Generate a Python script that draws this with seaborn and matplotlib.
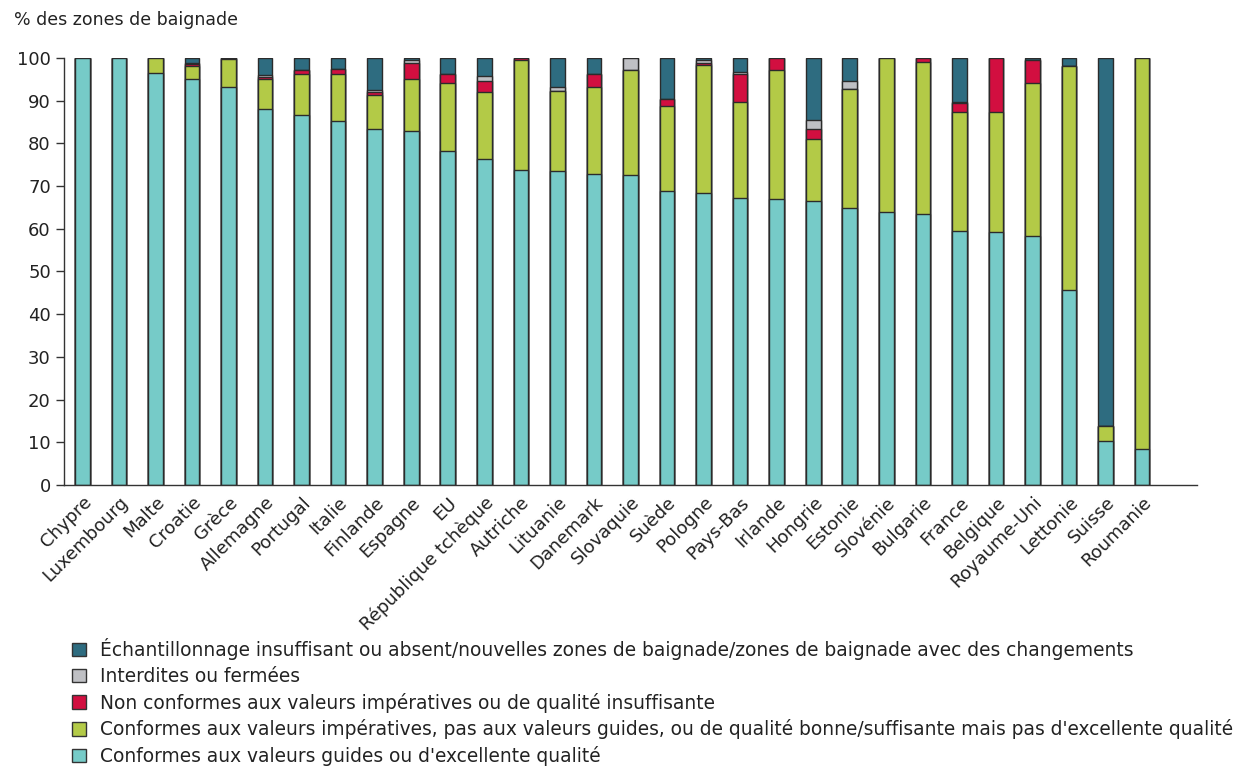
import pandas as pd
import seaborn as sns
import matplotlib.pyplot as plt
from matplotlib.patches import Patch

pays = ['Chypre', 'Luxembourg', 'Malte', 'Croatie', 'Grèce', 'Allemagne', 'Portugal',
        'Italie', 'Finlande', 'Espagne', 'EU', 'République tchèque', 'Autriche',
        'Lituanie', 'Danemark', 'Slovaquie', 'Suède', 'Pologne', 'Pays-Bas', 'Irlande',
        'Hongrie', 'Estonie', 'Slovénie', 'Bulgarie', 'France', 'Belgique',
        'Royaume-Uni', 'Lettonie', 'Suisse', 'Roumanie']

# % des zones de baignade par classe
excellente = [100, 100, 96.5, 95.1, 93.2, 88.0, 86.7, 85.1, 83.4, 82.8, 78.3, 76.3, 73.7,
              73.6, 72.8, 72.6, 68.9, 68.3, 67.2, 66.9, 66.4, 64.8, 63.8, 63.4, 59.5,
              59.2, 58.2, 45.7, 10.2, 8.4]
suffisante = [0, 0, 3.5, 3.1, 6.5, 7.1, 9.6, 11.0, 7.9, 12.3, 15.8, 15.7, 25.9,
              18.6, 20.4, 24.5, 19.8, 30.0, 22.5, 30.2, 14.7, 27.8, 36.2, 35.7, 27.8,
              28.1, 35.8, 52.3, 3.6, 91.6]
non_conformes = [0, 0, 0, 0.4, 0.2, 0.4, 0.8, 1.2, 0.8, 3.8, 2.0, 2.5, 0.4,
                 0.1, 3.0, 0, 1.6, 0.4, 6.5, 2.9, 2.2, 0, 0, 0.9, 2.1,
                 12.7, 5.6, 0, 0, 0]
fermees = [0, 0, 0, 0.1, 0, 0.4, 0.1, 0.1, 0.3, 0.5, 0.2, 1.2, 0,
           0.8, 0, 2.9, 0.1, 0.8, 0.4, 0, 2.1, 1.9, 0, 0, 0.3,
           0, 0, 0, 0, 0]
insuffisant = [0, 0, 0, 1.3, 0.1, 4.1, 2.8, 2.6, 7.6, 0.6, 3.7, 4.3, 0,
               6.9, 3.8, 0, 9.6, 0.5, 3.4, 0, 14.6, 5.5, 0, 0, 10.3,
               0, 0.4, 2.0, 86.2, 0]

libelles = [
    "Échantillonnage insuffisant ou absent/nouvelles zones de baignade/zones de baignade avec des changements",
    "Interdites ou fermées",
    "Non conformes aux valeurs impératives ou de qualité insuffisante",
    "Conformes aux valeurs impératives, pas aux valeurs guides, ou de qualité bonne/suffisante mais pas d'excellente qualité",
    "Conformes aux valeurs guides ou d'excellente qualité",
]
couleurs = ['#2e6c80', '#bfc0c4', '#d20f40', '#b3ca47', '#76cbc8']

df = pd.DataFrame({'pays': pays, 'exc': excellente, 'suf': suffisante,
                   'non': non_conformes, 'fer': fermees, 'ins': insuffisant})
# cumuls pour empiler
df['c1'] = df['exc']
df['c2'] = df['c1'] + df['suf']
df['c3'] = df['c2'] + df['non']
df['c4'] = df['c3'] + df['fer']
df['c5'] = df['c4'] + df['ins']

sns.set_style('white')
plt.rcParams['font.family'] = ['DejaVu Sans']

fig = plt.figure(figsize=(12.43, 7.71), dpi=100)
ax = fig.add_axes([0.0515, 0.371, 0.9115, 0.554])

for col, c in zip(['c5', 'c4', 'c3', 'c2', 'c1'], couleurs):
    sns.barplot(data=df, x='pays', y=col, color=c, width=0.4, ax=ax,
                edgecolor='#2b2b2b', linewidth=1, saturation=1)

ax.set_xlim(-0.5, len(pays) + 0.5)
ax.set_ylim(0, 100)
ax.set_yticks(range(0, 101, 10))
ax.set_xticks([i - 0.5 for i in range(len(pays) + 2)], minor=True)
ax.set_xticks(range(len(pays)))
ax.set_xticklabels(pays, rotation=45, ha='right', rotation_mode='anchor', fontsize=13,
                   color='#222222')
ax.tick_params(axis='x', which='major', length=0, pad=6)
ax.tick_params(axis='x', which='minor', length=8, width=1, color='#333333', direction='out')
ax.tick_params(axis='y', length=6, width=1, color='#333333', labelsize=13,
               labelcolor='#222222', direction='out', left=True)
ax.set_xlabel('')
ax.set_ylabel('')
for s in ['top', 'right']:
    ax.spines[s].set_visible(False)
for s in ['left', 'bottom']:
    ax.spines[s].set_color('#333333')
    ax.spines[s].set_linewidth(1)

fig.text(0.011, 0.974, '% des zones de baignade', fontsize=12.5, color='#222222',
         ha='left', va='center')

poignees = [Patch(facecolor=c, edgecolor='#333333', linewidth=1) for c in couleurs]
fig.legend(poignees, libelles, loc='upper left', bbox_to_anchor=(0.052, 0.182),
           frameon=False, fontsize=13.4, handlelength=0.75, handleheight=0.75,
           handletextpad=0.75, labelspacing=0.36, borderaxespad=0, labelcolor='#222222')

fig.savefig('out.png', dpi=100)
